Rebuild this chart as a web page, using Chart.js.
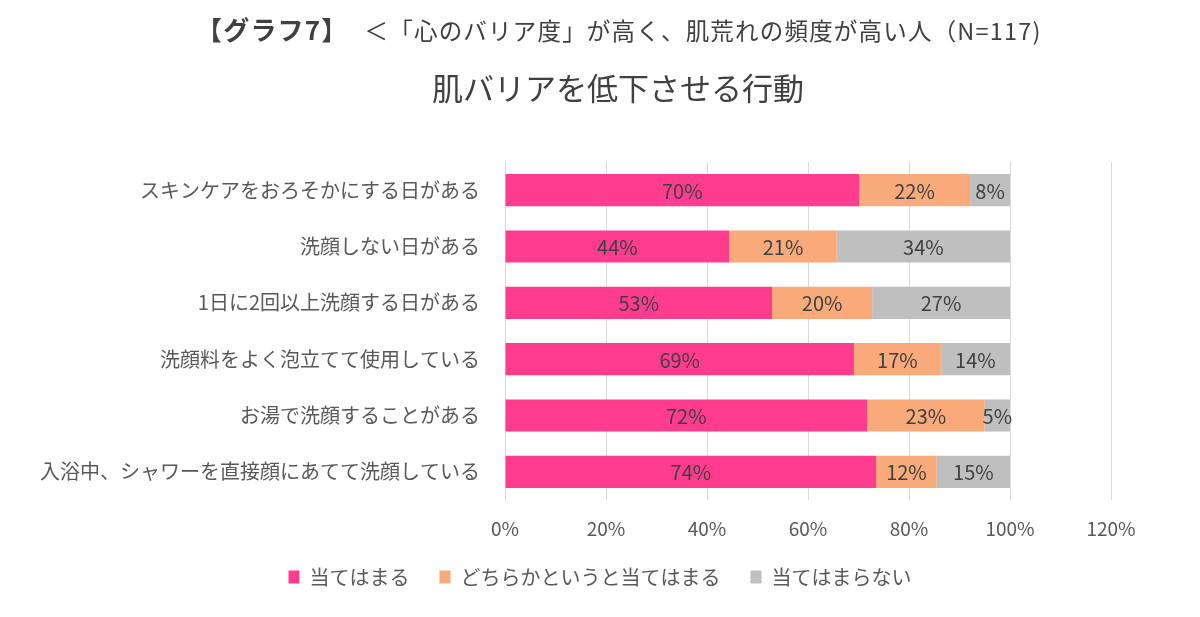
<!DOCTYPE html>
<html lang="ja">
<head>
<meta charset="utf-8">
<title>肌バリアを低下させる行動</title>
<script src="https://cdn.jsdelivr.net/npm/chart.js@4.4.1/dist/chart.umd.min.js"></script>
<style>
    html, body {
        margin: 0;
        padding: 0;
        background: #ffffff;
    }
    .wrap {
        position: relative;
        width: 1200px;
        height: 617px;
        overflow: hidden;
        font-family: "Noto Sans CJK JP", "Noto Sans", sans-serif;
        color: #404040;
    }
    .title1 {
        position: absolute;
        left: 196px;
        top: 10px;
        white-space: nowrap;
        font-size: 23.5px;
        letter-spacing: 1.2px;
    }
    .title1 b {
        font-size: 26px;
        font-weight: 700;
        margin-right: 16px;
    }
    .title2 {
        position: absolute;
        left: 0;
        width: 1236px;
        top: 64px;
        text-align: center;
        font-size: 31px;
    }
    canvas {
        position: absolute;
        left: 0;
        top: 0;
    }
</style>
</head>
<body>
<div class="wrap">
    <canvas id="barrierChart" width="1200" height="617"></canvas>
    <div class="title1"><b>【グラフ7】</b>＜「心のバリア度」が高く、肌荒れの頻度が高い人（N=117)</div>
    <div class="title2">肌バリアを低下させる行動</div>
</div>
<script>
    // Categories (top to bottom)
    const categories = [
        'スキンケアをおろそかにする日がある',
        '洗顔しない日がある',
        '1日に2回以上洗顔する日がある',
        '洗顔料をよく泡立てて使用している',
        'お湯で洗顔することがある',
        '入浴中、シャワーを直接顔にあてて洗顔している'
    ];

    // Series values (%)
    const applies = [70.1, 44.4, 52.9, 69.1, 71.7, 73.5];
    const somewhatApplies = [22.0, 21.3, 19.8, 17.2, 23.3, 12.0];
    const notApplies = [7.9, 34.3, 27.3, 13.7, 5.0, 14.5];

    const seriesNames = ['当てはまる', 'どちらかというと当てはまる', '当てはまらない'];
    const xTicks = [0, 20, 40, 60, 80, 100, 120];

    const FONT = '"Noto Sans CJK JP", "Noto Sans", sans-serif';

    // Draws the percentage in the middle of every bar segment
    const segmentLabels = {
        id: 'segmentLabels',
        afterDatasetsDraw: function(chart) {
            const ctx = chart.ctx;
            ctx.save();
            ctx.font = '20px ' + FONT;
            ctx.fillStyle = '#404040';
            ctx.textAlign = 'center';
            ctx.textBaseline = 'middle';
            chart.data.datasets.forEach(function(ds, i) {
                const meta = chart.getDatasetMeta(i);
                meta.data.forEach(function(bar, j) {
                    const cx = (bar.x + bar.base) / 2;
                    ctx.fillText(Math.round(ds.data[j]) + '%', cx, bar.y + 1);
                });
            });
            ctx.restore();
        }
    };

    // Pull the legend a bit closer to the axis labels
    const legendNudge = {
        id: 'legendNudge',
        afterLayout: function(chart) {
            if (chart.legend) {
                chart.legend.top -= 7;
                chart.legend.bottom -= 7;
            }
        }
    };

    new Chart(document.getElementById('barrierChart'), {
        type: 'bar',
        data: {
            labels: categories,
            datasets: [{
                label: seriesNames[0],
                data: applies,
                backgroundColor: '#ff3c8e'
            }, {
                label: seriesNames[1],
                data: somewhatApplies,
                backgroundColor: '#f9aa7a'
            }, {
                label: seriesNames[2],
                data: notApplies,
                backgroundColor: '#bfbfbf'
            }]
        },
        options: {
            indexAxis: 'y',
            responsive: false,
            animation: false,
            categoryPercentage: 0.57,
            barPercentage: 1,
            layout: {
                padding: { top: 162, right: 0, bottom: 13, left: 0 }
            },
            scales: {
                x: {
                    stacked: true,
                    min: 0,
                    max: 120,
                    afterBuildTicks: function(scale) {
                        scale.ticks = xTicks.map(function(v) { return { value: v }; });
                    },
                    afterFit: function(scale) {
                        scale.height = 44;
                    },
                    ticks: {
                        padding: 17,
                        color: '#595959',
                        font: { family: FONT, size: 19 },
                        callback: function(value) {
                            return value + '%';
                        }
                    },
                    grid: {
                        color: '#d9d9d9',
                        drawTicks: false
                    },
                    border: { display: false }
                },
                y: {
                    stacked: true,
                    afterFit: function(scale) {
                        scale.width = 505;
                    },
                    ticks: {
                        padding: 25,
                        color: '#595959',
                        font: { family: FONT, size: 20 }
                    },
                    grid: {
                        display: false,
                        drawTicks: false
                    },
                    border: {
                        display: true,
                        color: '#d9d9d9'
                    }
                },
                // empty right-hand axis, only keeps the space right of 120%
                spacer: {
                    type: 'category',
                    position: 'right',
                    afterFit: function(scale) {
                        scale.width = 89;
                    },
                    ticks: { display: false },
                    grid: { display: false, drawTicks: false },
                    border: { display: false }
                }
            },
            plugins: {
                legend: {
                    position: 'bottom',
                    labels: {
                        boxWidth: 11,
                        boxHeight: 13,
                        padding: 30,
                        color: '#595959',
                        font: { family: FONT, size: 20 }
                    }
                },
                tooltip: { enabled: false }
            }
        },
        plugins: [segmentLabels, legendNudge]
    });
</script>
</body>
</html>
